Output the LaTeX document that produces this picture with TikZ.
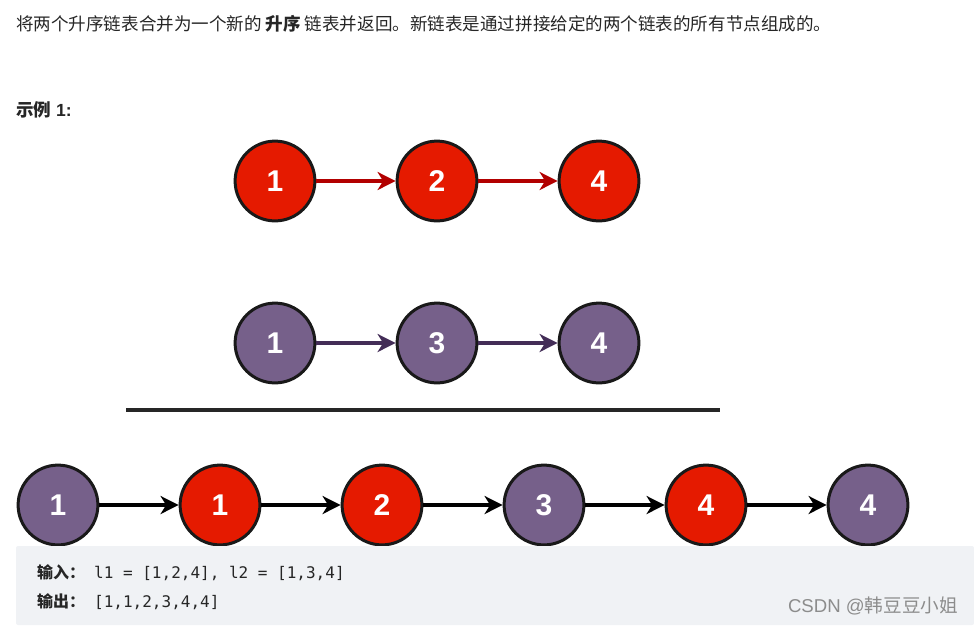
\documentclass[tikz,border=0pt]{standalone}
\usepackage{fontspec}
\usepackage{xcolor}
\setmainfont{Liberation Sans}
\setmonofont{DejaVu Sans Mono}
\newfontfamily\cjk{Noto Sans CJK SC}
\usetikzlibrary{arrows.meta,positioning}
\definecolor{redfill}{HTML}{E51A00}
\definecolor{purplefill}{HTML}{76608A}
\definecolor{redline}{HTML}{B20000}
\definecolor{purpleline}{HTML}{432D57}
\definecolor{boxfill}{HTML}{F0F2F5}
\definecolor{textgray}{HTML}{262626}
\tikzset{
  ball/.style={circle,draw=black!90,line width=3pt,minimum size=79.8pt,inner sep=0pt,text=white,font=\fontsize{30}{30}\selectfont\bfseries},
  rednode/.style={ball,fill=redfill},
  purplenode/.style={ball,fill=purplefill},
  link/.style={line width=3.2pt,-{Stealth[length=18pt,width=18pt,inset=5.5pt]}},
  words/.style={anchor=west,inner sep=0pt,text=textgray}
}
\begin{document}
\begin{tikzpicture}[x=1pt,y=1pt,node distance=79.2pt]
\useasboundingbox (0,0) rectangle (974,-625);
% first list
\node[rednode](1) at (275,-181){1};
\node[rednode,right=of 1](2){2};
\node[rednode,right=of 2](3){4};
\draw[link,redline] (1) -- (2);
\draw[link,redline] (2) -- (3);
% second list
\node[purplenode](4) at (275,-343){1};
\node[purplenode,right=of 4](5){3};
\node[purplenode,right=of 5](6){4};
\draw[link,purpleline] (4) -- (5);
\draw[link,purpleline] (5) -- (6);
% rule
\coordinate (a) at (126,-410);
\coordinate (b) at (720,-410);
\draw[line width=3.2pt,color=black!85] (a) -- (b);
% merged list
\node[purplenode](7) at (58,-505){1};
\node[rednode,right=of 7](8){1};
\node[rednode,right=of 8](9){2};
\node[purplenode,right=of 9](10){3};
\node[rednode,right=of 10](11){4};
\node[purplenode,right=of 11](12){4};
\draw[link,black] (7) -- (8);
\draw[link,black] (8) -- (9);
\draw[link,black] (9) -- (10);
\draw[link,black] (10) -- (11);
\draw[link,black] (11) -- (12);
% text
\node[words,font=\fontsize{17.55}{20}\selectfont\cjk](title) at (16,-24){将两个升序链表合并为一个新的 \textbf{升序} 链表并返回。新链表是通过拼接给定的两个链表的所有节点组成的。};
\node[words,font=\fontsize{17.55}{20}\selectfont\bfseries](example) at (16,-110){{\cjk 示例} 1:};
\fill[boxfill,rounded corners=2pt] (16,-546) rectangle (974,-625);
\node[words,font=\fontsize{16}{20}\selectfont\ttfamily](input) at (37,-573){{\cjk\bfseries 输入：}\hspace{9pt}l1 = [1,2,4], l2 = [1,3,4]};
\node[words,font=\fontsize{16}{20}\selectfont\ttfamily](output) at (37,-602){{\cjk\bfseries 输出：}\hspace{9pt}[1,1,2,3,4,4]};
\node[anchor=east,inner sep=0pt,text=black!45,font=\fontsize{18.6}{20}\selectfont](mark) at (958,-606){CSDN @{\cjk 韩豆豆小姐}};
\end{tikzpicture}
\end{document}
